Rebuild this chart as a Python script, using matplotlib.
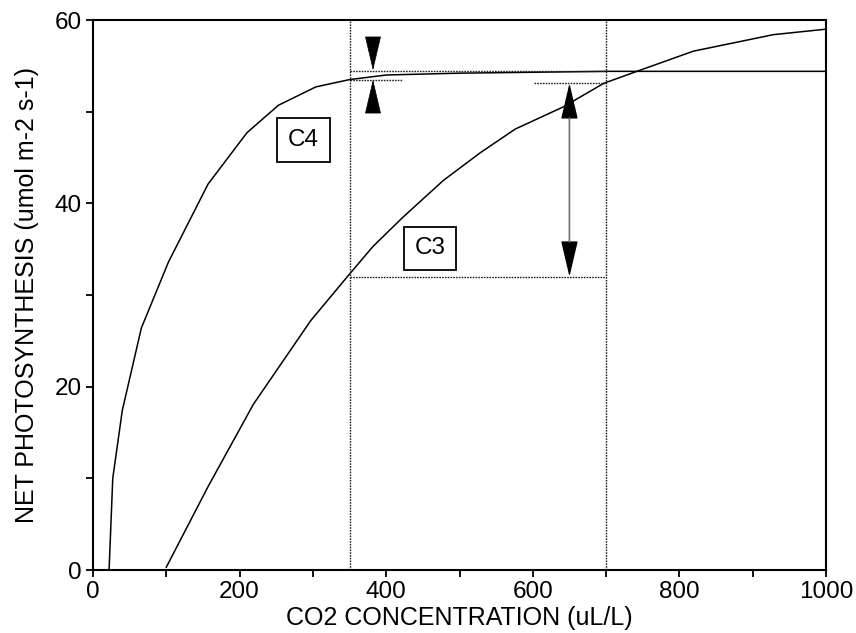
import matplotlib
matplotlib.use("Agg")
import matplotlib.pyplot as plt
from matplotlib.ticker import MultipleLocator

plt.rcParams['font.family'] = ['Liberation Sans', 'DejaVu Sans']

# curve values
c4_x = [22, 27, 40, 66, 103, 157, 210, 253, 304, 350, 400, 500, 600, 700, 800, 900, 1000]
c4_y = [0, 10, 17.4, 26.4, 33.6, 42.1, 47.7, 50.7, 52.7, 53.5, 54.0, 54.2, 54.3, 54.4, 54.4, 54.4, 54.4]

c3_x = [100, 157, 219, 297, 347, 382, 423, 478, 528, 576, 641, 697, 742, 819, 928, 1000]
c3_y = [0.3, 9.1, 18.1, 27.2, 32.0, 35.3, 38.5, 42.5, 45.5, 48.1, 50.5, 53.1, 54.4, 56.6, 58.4, 59.0]

# reference concentrations and the values at them
co2_now = 350
co2_double = 700
c4_now, c4_double = 53.5, 54.4
c3_now, c3_double = 32.0, 53.1
c4_gap_x = 382
c3_gap_x = 650

labels = ["C4", "C3"]
label_x = [287, 460]
label_y = [46.9, 35.1]

fig = plt.figure(figsize=(8.56, 6.33), dpi=100)
ax = fig.add_axes([0.1086, 0.0995, 0.8564, 0.8689])

ax.plot(c4_x, c4_y, color='black', lw=1.1)
ax.plot(c3_x, c3_y, color='black', lw=1.1)

dot = dict(color='#222222', lw=1.0, linestyle=(0, (1.2, 0.8)))
ax.axvline(co2_now, **dot)
ax.axvline(co2_double, **dot)
ax.plot([co2_now, co2_double], [c3_now, c3_now], **dot)
ax.plot([co2_now, co2_double], [c4_double, c4_double], **dot)
ax.plot([co2_now, co2_now + 72], [c4_now, c4_now], **dot)
ax.plot([co2_double - 98, co2_double], [c3_double, c3_double], **dot)

# big double arrow for the C3 gain
ax.annotate('', xy=(c3_gap_x, c3_double), xytext=(c3_gap_x, c3_now),
            arrowprops=dict(arrowstyle='<|-|>,head_length=1.15,head_width=0.27',
                            mutation_scale=20, color='black', lw=0.9,
                            shrinkA=0, shrinkB=0))
ax.annotate('', xy=(c3_gap_x, c3_double), xytext=(c3_gap_x, c3_now),
            arrowprops=dict(arrowstyle='-', color='#777777', lw=1.0,
                            shrinkA=25, shrinkB=25))

# small inward arrows for the C4 gain
ax.annotate('', xy=(c4_gap_x, c4_double + 0.1), xytext=(c4_gap_x, 58.0),
            arrowprops=dict(arrowstyle='-|>,head_length=1.15,head_width=0.27',
                            mutation_scale=20, color='black', lw=0.5,
                            shrinkA=0, shrinkB=0))
ax.annotate('', xy=(c4_gap_x, c4_now), xytext=(c4_gap_x, 50.1),
            arrowprops=dict(arrowstyle='-|>,head_length=1.15,head_width=0.27',
                            mutation_scale=20, color='black', lw=0.5,
                            shrinkA=0, shrinkB=0))

for t, x, y in zip(labels, label_x, label_y):
    ax.text(x, y, t, fontsize=17.5, ha='center', va='center',
            bbox=dict(boxstyle='square,pad=0.44', fc='white', ec='black', lw=1.3))

ax.set_xlim(0, 1000)
ax.set_ylim(0, 60)
ax.xaxis.set_major_locator(MultipleLocator(200))
ax.xaxis.set_minor_locator(MultipleLocator(100))
ax.yaxis.set_major_locator(MultipleLocator(20))
ax.yaxis.set_minor_locator(MultipleLocator(10))
ax.tick_params(which='both', direction='out', length=5, width=1.3, labelsize=17.5, pad=3)
for s in ax.spines.values():
    s.set_linewidth(1.5)

ax.set_xlabel('CO2 CONCENTRATION (uL/L)', fontsize=18, labelpad=2)
ax.set_ylabel('NET PHOTOSYNTHESIS (umol m-2 s-1)', fontsize=18, labelpad=11)

fig.savefig('out.png', dpi=100)
